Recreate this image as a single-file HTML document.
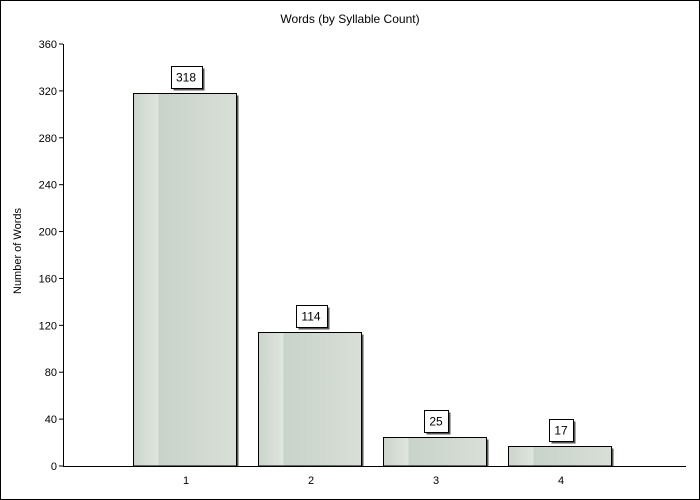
<!DOCTYPE html>
<html><head><meta charset="utf-8"><style>
html,body{margin:0;padding:0;background:#fff}
svg{display:block;font-family:"Segoe UI","Liberation Sans","DejaVu Sans",sans-serif}
</style></head><body>
<svg id="chart" width="700" height="500" viewBox="0 0 700 500">
<defs>
<linearGradient id="barGrad" x1="0" x2="1" y1="0" y2="0">
<stop offset="0" stop-color="#cbd5cc"/>
<stop offset="0.24" stop-color="#dfe5df"/>
<stop offset="0.245" stop-color="#c8d3c9"/>
<stop offset="1" stop-color="#d8dfd7"/>
</linearGradient>
</defs>
<rect x="0.5" y="0.5" width="699" height="499" fill="#fff" stroke="#000"/>
<text x="350" y="23" font-size="12" text-anchor="middle" fill="#000">Words (by Syllable Count)</text>
<text transform="translate(21,251) rotate(-90)" font-size="11" text-anchor="middle">Number of Words</text>
<g id="plot"></g>
</svg>
<script>
const categories = ["1","2","3","4"];
const values = [318,114,25,17];
const yTicks = [0,40,80,120,160,200,240,280,320,360];
const X0=63, X1=686, Y0=466, Y1=44, YMAX=360, SLOT=125, XOFF=61;
const xs = i => XOFF + (i+1)*SLOT;
const ys = v => Y0 - v*(Y0-Y1)/YMAX;
const NS="http://www.w3.org/2000/svg";
const g=document.getElementById('plot');
function mk(t,a){const e=document.createElementNS(NS,t);for(const k in a)e.setAttribute(k,a[k]);g.appendChild(e);return e;}
yTicks.forEach(v=>{
  const y=ys(v);
  const t=mk('line',{x1:X0-4,x2:X0,y1:y,y2:y,stroke:'#000'});
  
  
  const l=mk('text',{x:X0-6,y:y+4,'font-size':11,'text-anchor':'end'});
  l.textContent=v;
  
  
});
const bw=103;
values.forEach((v,i)=>{
  const cx=xs(i), x=Math.floor(cx-bw/2)-1+0.5, y=Math.round(ys(v))+0.5, h=Y0-y;
  const s=mk('rect',{x:x+2,y:y+2,width:bw,height:h-2,fill:'#555'});
  
  
  const b=mk('rect',{x:x,y:y,width:bw,height:h,fill:'url(#barGrad)',stroke:'#000'});
  
  
  const txt=String(v), w=txt.length*7+10, lx=Math.round(cx-w/2)+0.5, ly=y-27;
  const ls=mk('rect',{x:lx+2,y:ly+2,width:w,height:22,fill:'#555'});
  
  
  const lb=mk('rect',{x:lx,y:ly,width:w,height:22,fill:'#fff',stroke:'#000'});
  
  
  const lt=mk('text',{x:cx,y:ly+15,'font-size':12,'text-anchor':'middle'});
  lt.textContent=txt;
  
  
  const xl=mk('text',{x:cx,y:484,'font-size':11,'text-anchor':'middle'});
  xl.textContent=categories[i];
  
  
});
const ya=mk('line',{x1:X0+0.5,x2:X0+0.5,y1:Y1,y2:Y0,stroke:'#000'});


const xa=mk('line',{x1:X0,x2:X1,y1:Y0+0.5,y2:Y0+0.5,stroke:'#000'});


</script>
</body></html>
